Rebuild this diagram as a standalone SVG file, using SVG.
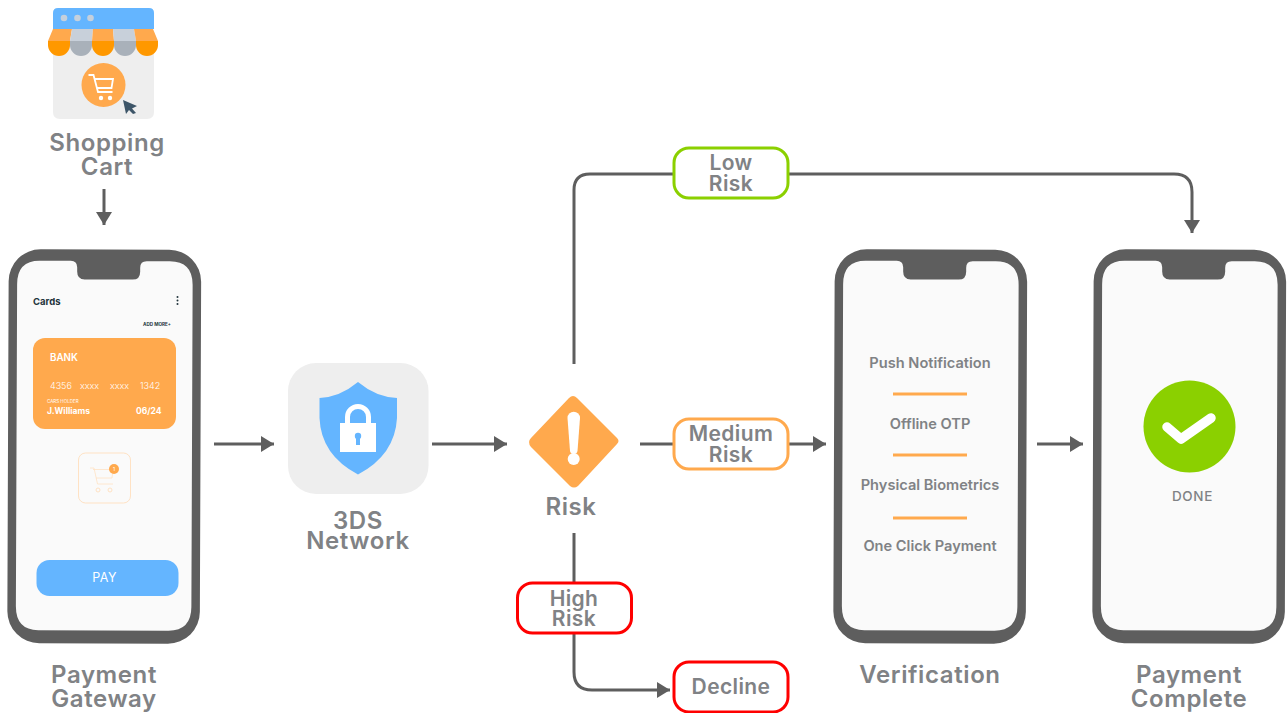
<svg xmlns="http://www.w3.org/2000/svg" xmlns:xlink="http://www.w3.org/1999/xlink" width="1287" height="713" viewBox="0 0 1287 713">
<style>
text{font-family:"Inter","Noto Sans","Liberation Sans",sans-serif}
.t{font-size:24px;font-weight:600;fill:#808285;text-anchor:middle;letter-spacing:.6px}
.b{font-size:14.600px;font-weight:600;fill:#808285;text-anchor:middle}
.l{font-size:21px;font-weight:600;fill:#808285;text-anchor:middle;letter-spacing:.4px}
.c{fill:none;stroke:#5e5e5e;stroke-width:3}
.o{stroke:#ffa94d;stroke-width:3}
</style>
<defs>
<marker id="a" markerUnits="userSpaceOnUse" markerWidth="14" markerHeight="16" refX="13" refY="8" orient="auto"><path d="M0 0L13 8L0 16Z" fill="#5e5e5e"/></marker>
<g id="phone">
<rect width="192.500" height="394" rx="32" fill="#5e5e5e"/>
<path d="M31 11.500H62Q68.500 11.500 68.500 18V22Q68.500 30 76 30H124Q131.500 30 131.500 22V18Q131.500 11.500 138 11.500H161Q184 11.500 184 35V357Q184 381 161 381H31Q8.500 381 8.500 357V35Q8.500 11.500 31 11.500Z" fill="#fafafa"/>
</g>
</defs>
<g id="connectors">
<path class="c" d="M104 189V225" marker-end="url(#a)"/>
<path class="c" d="M214 444H274" marker-end="url(#a)"/>
<path class="c" d="M432 444H507" marker-end="url(#a)"/>
<path class="c" d="M574 364V190Q574 174 590 174H1174Q1192 174 1192 192V233" marker-end="url(#a)"/>
<path class="c" d="M640 444H826" marker-end="url(#a)"/>
<path class="c" d="M1037 444H1083" marker-end="url(#a)"/>
<path class="c" d="M574 533V672Q574 690 592 690H670" marker-end="url(#a)"/>
</g>
<g id="shopping-cart">
<path d="M53 40H154V112Q154 119 147 119H60Q53 119 53 112Z" fill="#eeeeee"/>
<path d="M53 29V13Q53 8 58 8H149Q154 8 154 13V29Z" fill="#64b5ff"/>
<circle cx="64" cy="18" r="3.300" fill="#c5d0dc"/><circle cx="77.500" cy="18" r="3.300" fill="#c5d0dc"/><circle cx="90.500" cy="18" r="3.300" fill="#c5d0dc"/>
<path d="M48 41H70V45A11 11 0 0 1 48 45Z" fill="#ff9800"/><path d="M53 29H72L70 41H48Z" fill="#ffa94d"/>
<path d="M70 41H92V45A11 11 0 0 1 70 45Z" fill="#a9b1ba"/><path d="M72 29H93L92 41H70Z" fill="#c8d0da"/>
<path d="M92 41H114V45A11 11 0 0 1 92 45Z" fill="#ff9800"/><path d="M93 29H113L114 41H92Z" fill="#ffa94d"/>
<path d="M114 41H136V45A11 11 0 0 1 114 45Z" fill="#a9b1ba"/><path d="M113 29H134L136 41H114Z" fill="#c8d0da"/>
<path d="M136 41H158V45A11 11 0 0 1 136 45Z" fill="#ff9800"/><path d="M134 29H153L158 41H136Z" fill="#ffa94d"/>
<circle cx="103.500" cy="85" r="22" fill="#ffa94d"/>
<path d="M88.500 75H93.500L98 92H112.500M95 79H113L111.500 88H97" fill="none" stroke="#fff" stroke-width="1.800"/>
<circle cx="101" cy="98" r="2.200" fill="#fff"/><circle cx="110" cy="98" r="2.200" fill="#fff"/>
<path d="M123 100L137 106L132 108.500L136 113L133 114L129 110L126 114Z" fill="#3d5568"/>
<text class="t" x="107" y="151">Shopping</text><text class="t" x="107" y="175">Cart</text>
</g>
<g id="payment-gateway">
<use xlink:href="#phone" href="#phone" transform="translate(8 249.500) rotate(.22 96 197)"/>
<text x="33" y="304.500" font-size="9.500" font-weight="700" fill="#22343c">Cards</text>
<circle cx="177.500" cy="297" r="1" fill="#22343c"/><circle cx="177.500" cy="300.500" r="1" fill="#22343c"/><circle cx="177.500" cy="304" r="1" fill="#22343c"/>
<text x="143" y="325.500" font-size="4.600" font-weight="700" fill="#22343c">ADD MORE+</text>
<rect x="33" y="338" width="143" height="91" rx="12" fill="#ffa94d"/>
<text x="50" y="361" font-size="9.800" font-weight="600" fill="#fff">BANK</text>
<g font-size="9" font-weight="300" fill="#fff"><text x="50" y="389">4356</text><text x="80" y="389">xxxx</text><text x="110" y="389">xxxx</text><text x="140" y="389">1342</text></g>
<text x="47" y="403" font-size="4.500" fill="#fff">CARS HOLDER</text>
<text x="47" y="414" font-size="8.500" font-weight="700" fill="#fff">J.Williams</text>
<text x="136" y="414" font-size="8.500" font-weight="700" fill="#fff">06/24</text>
<rect x="78.500" y="453" width="52" height="50" rx="7" fill="none" stroke="#ffe2c4"/>
<path d="M90 468H94L97.500 484H113M93 469.500H113L112 478H96" fill="none" stroke="#ffe2c4" stroke-width=".8"/>
<circle cx="98" cy="490" r="2" fill="none" stroke="#ffe2c4"/><circle cx="110" cy="490" r="2" fill="none" stroke="#ffe2c4"/>
<circle cx="114" cy="469" r="5" fill="#ffa94d"/><text x="114" y="471" font-size="5" fill="#fff" text-anchor="middle">1</text>
<rect x="36.500" y="560" width="142" height="36" rx="13" fill="#64b5ff"/>
<text x="104.500" y="582" font-size="12.500" fill="#fff" text-anchor="middle" letter-spacing=".5">PAY</text>
<text class="t" x="104" y="683">Payment</text><text class="t" x="104" y="707">Gateway</text>
</g>
<g id="network-3ds">
<rect x="288" y="363" width="140.500" height="131" rx="28" fill="#eeeeee"/>
<path d="M358 382Q340 397 319.500 398V418Q321 455 358 474.500Q395 455 397 418V398Q376 397 358 382Z" fill="#64b5ff"/>
<path d="M347.500 425V417A10.500 10.500 0 0 1 368.500 417V425" fill="none" stroke="#fff" stroke-width="5"/>
<rect x="340" y="423" width="36" height="29" fill="#fff"/>
<circle cx="358" cy="436" r="3.200" fill="#64b5ff"/><rect x="356" y="436" width="4" height="9" fill="#64b5ff"/>
<text class="t" x="358" y="529">3DS</text><text class="t" x="358" y="549">Network</text>
</g>
<g id="risk">
<path d="M573 396Q575 396 577 398L617 438Q620 441 617 444L578 486Q574 489 570 486L531 447Q527 442 531 438L569 398Q571 396 573 396Z" fill="#ffa94d"/>
<path d="M567.500 418A6.200 6.200 0 0 1 580 418L577.500 451Q577 454 573.700 454Q570.500 454 570 451Z" fill="#fff"/>
<circle cx="573.700" cy="459" r="6" fill="#fff"/>
<text class="t" x="571" y="515">Risk</text>
</g>
<g id="low-risk">
<rect x="674" y="148" width="114" height="50" rx="15" fill="#fff" stroke="#8bd000" stroke-width="3"/>
<text class="l" x="731" y="170">Low</text><text class="l" x="731" y="191">Risk</text>
</g>
<g id="medium-risk">
<rect x="674" y="419" width="114" height="50" rx="15" fill="#fff" stroke="#ffa94d" stroke-width="3"/>
<text class="l" x="731" y="441">Medium</text><text class="l" x="731" y="462">Risk</text>
</g>
<g id="high-risk">
<rect x="517.500" y="583" width="114" height="50" rx="15" fill="#fff" stroke="#f00" stroke-width="3"/>
<text class="l" x="574" y="606">High</text><text class="l" x="574" y="626">Risk</text>
</g>
<g id="decline">
<rect x="674" y="662" width="114" height="50" rx="15" fill="#fff" stroke="#f00" stroke-width="3"/>
<text class="l" x="731" y="694">Decline</text>
</g>
<g id="verification">
<use xlink:href="#phone" href="#phone" transform="translate(834 249.500) rotate(.22 96 197)"/>
<text class="b" x="930" y="367.500">Push Notification</text>
<path class="o" d="M893 394H967M893 455H967M893 518H967"/>
<text class="b" x="930" y="428.500">Offline OTP</text>
<text class="b" x="930" y="489.500">Physical Biometrics</text>
<text class="b" x="930" y="550.500">One Click Payment</text>
<text class="t" x="930" y="683">Verification</text>
</g>
<g id="payment-complete">
<use xlink:href="#phone" href="#phone" transform="translate(1093 249.500) rotate(.22 96 197)"/>
<circle cx="1189.500" cy="426.500" r="46" fill="#8bd000"/>
<path d="M1167 427L1181 439L1211 418" fill="none" stroke="#fff" stroke-width="9.500" stroke-linecap="round" stroke-linejoin="round"/>
<text x="1192.500" y="501" font-size="13.500" font-weight="500" fill="#808285" text-anchor="middle" letter-spacing=".7">DONE</text>
<text class="t" x="1189" y="683">Payment</text><text class="t" x="1189" y="707">Complete</text>
</g>
</svg>
